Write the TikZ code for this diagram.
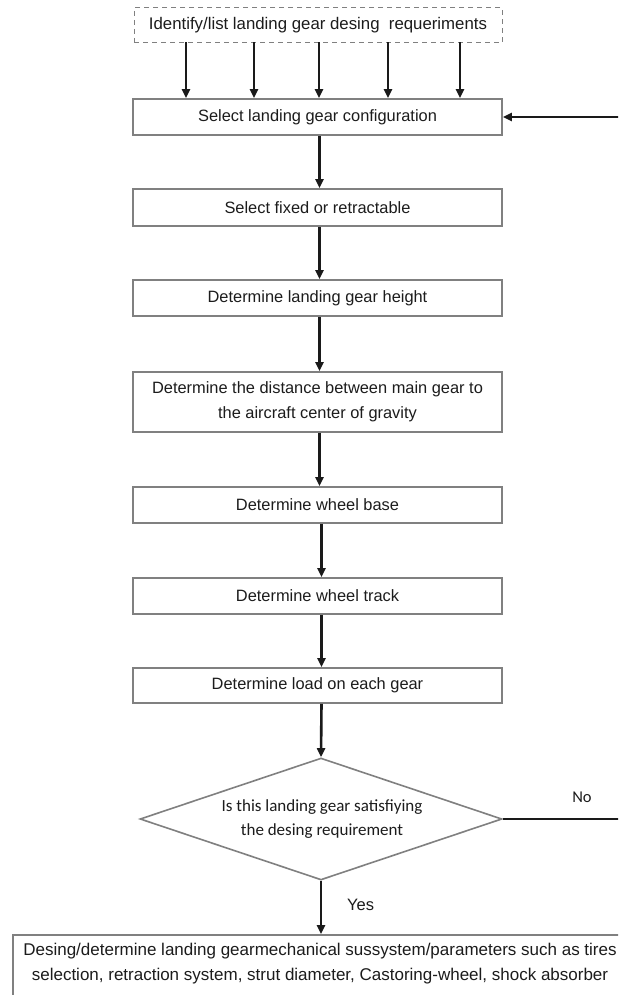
\documentclass[tikz,border=0pt]{standalone}
\usepackage{fontspec}
\setmainfont{Liberation Sans}
\newfontfamily\carlitofont{Carlito}
\usetikzlibrary{arrows.meta,shapes.geometric}
\definecolor{boxgray}{HTML}{808080}
\definecolor{arrowdark}{HTML}{1A1A1A}
\definecolor{textdark}{HTML}{1C1C1C}
\begin{document}
\begin{tikzpicture}[x=1pt,y=-1pt,
  procbox/.style={draw=boxgray, line width=1.6pt, minimum width=369pt, minimum height=36pt,
    inner sep=0pt, align=center, text=textdark, font=\fontsize{16.4}{25}\selectfont},
  reqbox/.style={draw=boxgray, line width=1pt, dash pattern=on 5pt off 4pt,
    minimum width=368pt, minimum height=35pt, inner sep=0pt, text=textdark,
    font=\fontsize{16.8}{25}\selectfont},
  decision/.style={diamond, draw=boxgray, line width=1.6pt, minimum width=362pt, minimum height=122pt,
    inner sep=0pt, aspect=2.97},
  dectext/.style={align=center, text=textdark, font=\carlitofont\fontsize{17}{24}\selectfont, inner sep=0pt},
  plaintext/.style={text=textdark, inner sep=0pt},
  arr/.style={draw=arrowdark, line width=2.6pt, -{Triangle[length=9pt,width=8pt]}},
  conn/.style={draw=arrowdark, line width=2.2pt}]
\fill[white] (0,0) rectangle (618,995);
\useasboundingbox (0,0) rectangle (618,995);
\clip (0,0) rectangle (618,995);

\node[reqbox] (req) at (318,25.5) {Identify/list landing gear desing \ requeriments};
\node[procbox] (b1) at (317.5,117) {Select landing gear configuration};
\node[procbox, minimum height=37pt] (b2) at (317.5,207.5) {Select fixed or retractable};
\node[procbox] (b3) at (317.5,298) {Determine landing gear height};
\node[procbox, minimum height=60pt] (b4) at (317.5,402) {Determine the distance between main gear to\\the aircraft center of gravity};
\node[procbox] (b5) at (317.5,505) {Determine wheel base};
\node[procbox] (b6) at (317.5,596) {Determine wheel track};
\node[procbox, minimum height=35pt] (b7) at (317.5,685.5) {Determine load on each gear};
\node[decision] (dia) at (321,819) {};
\node[dectext] (diatext) at (322,819) {Is this landing gear satisfiying\\the desing requirement};
\node[draw=boxgray, line width=1.6pt, minimum width=627pt, minimum height=80pt, inner sep=0pt] (finbox) at (326.5,975) {};
\node[plaintext, align=center, font=\fontsize{17}{25}\selectfont] (fin) at (320,963.5)
  {Desing/determine landing gearmechanical sussystem/parameters such as tires\\selection, retraction system, strut diameter, Castoring-wheel, shock absorber};

% requirement arrows
\foreach \dx in {-132,-64,1,70,142}{
  \draw[arr] ([xshift=\dx pt, yshift=1pt]req.south) -- ([xshift=\dx pt]req.south |- b1.north);
}
% main chain
\draw[arr] ([xshift=2pt]b1.south) -- ([xshift=2pt]b2.north);
\draw[arr] ([xshift=2pt]b2.south) -- ([xshift=2pt]b3.north);
\draw[arr] ([xshift=2pt]b3.south) -- ([xshift=2pt]b4.north);
\draw[arr] ([xshift=2pt]b4.south) -- ([xshift=2pt]b5.north);
\draw[arr] ([xshift=4pt]b5.south) -- ([xshift=4pt]b6.north);
\draw[arr] ([xshift=4pt]b6.south) -- ([xshift=4pt]b7.north);
\draw[arr] ([xshift=4pt]b7.south) -- (dia.north);
\draw[arr] (dia.south) -- (dia.south |- finbox.north);
\node[plaintext, font=\fontsize{16.5}{20}\selectfont, anchor=west] (yes) at (347,905) {Yes};

% feedback loop (No)
\draw[conn] (dia.east) -- ++(160,0) coordinate (loopb);
\draw[arr] (loopb) |- (b1.east);
\node[plaintext, font=\carlitofont\fontsize{16.5}{20}\selectfont] (no) at (582,797) {No};
\end{tikzpicture}
\end{document}
